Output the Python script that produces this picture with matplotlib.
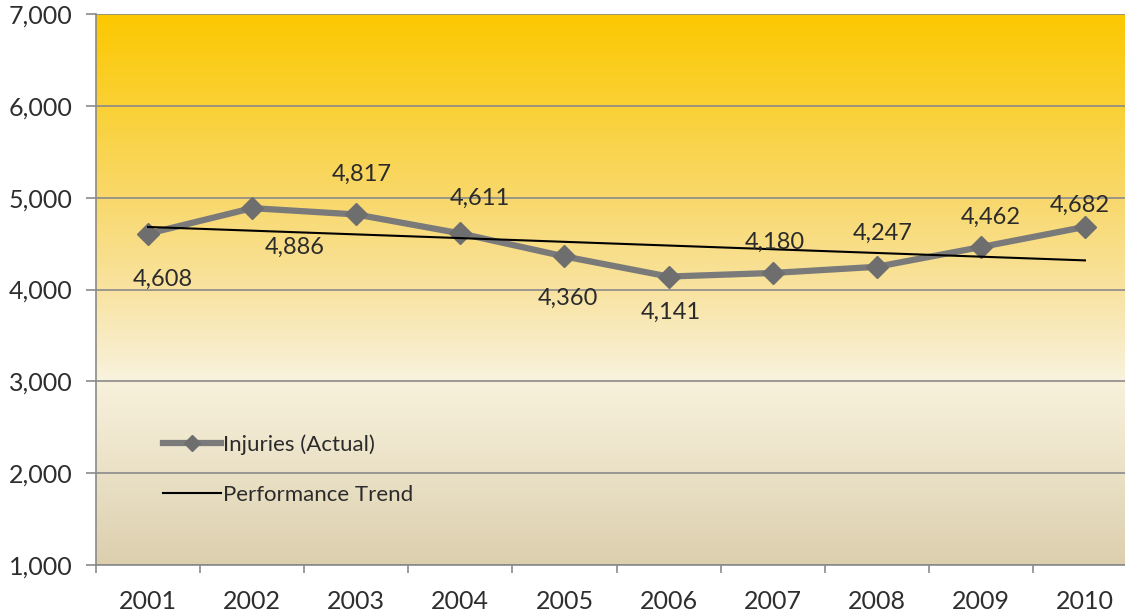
import matplotlib
matplotlib.use("Agg")
import matplotlib.pyplot as plt
import numpy as np
from matplotlib.colors import LinearSegmentedColormap

years = ["2001", "2002", "2003", "2004", "2005", "2006", "2007", "2008", "2009", "2010"]
injuries = [4608, 4886, 4817, 4611, 4360, 4141, 4180, 4247, 4462, 4682]
trend_ends = [4681, 4317]
# label offsets in pixels (dx, dy) from each marker
label_dx = [15, 43, 5, 20, 3, 2, 2, 6, 10, -5]
label_dy = [-46, -39, 40, 35, -42, -36, 31, 33, 30, 22]

plt.rcParams['font.family'] = ['Lato', 'DejaVu Sans']

fig = plt.figure(figsize=(11.25, 6.16), dpi=100)
ax = fig.add_axes([96/1125, 51/616, 1041/1125, 551/616])
x = np.arange(len(years))
ax.set_xlim(-0.5, len(years) - 0.5)
ax.set_ylim(1000, 7000)

# background gradient, bottom -> top
bg = LinearSegmentedColormap.from_list("bg", [
    (0.0, "#dccfae"), (0.18, "#ebe2c8"), (0.34, "#f9f2dc"),
    (0.5, "#f8e3a0"), (0.67, "#f9d86a"), (0.83, "#fad136"), (1.0, "#fcc800")])
grad = np.linspace(0, 1, 256).reshape(-1, 1)
ax.imshow(grad, cmap=bg, origin="lower", aspect="auto",
          extent=(-0.5, len(years) - 0.5, 1000, 7000), zorder=0)

ax.set_yticks(range(1000, 7001, 1000))
ax.set_yticklabels([f"{v:,}" for v in range(1000, 7001, 1000)])
ax.yaxis.grid(True, color="#8a8a8a", linewidth=1.2, zorder=1)
ax.set_xticks(x)
ax.set_xticklabels(years)
ax.set_xticks(np.arange(-0.5, len(years), 1), minor=True)
ax.tick_params(axis="x", which="major", length=0, pad=18, labelsize=18, labelcolor="#2e2e2e")
ax.tick_params(axis="x", which="minor", length=6, color="#8a8a8a", width=1.2)
ax.tick_params(axis="y", length=7, color="#8a8a8a", width=1.2, labelsize=18, labelcolor="#2e2e2e", pad=10)
for s in ["top", "right"]:
    ax.spines[s].set_visible(False)
for s in ["left", "bottom"]:
    ax.spines[s].set_color("#8a8a8a")
    ax.spines[s].set_linewidth(1.2)

ax.plot(x, injuries, color="#7a7a7a", linewidth=4.5, marker="D", markersize=11,
        markerfacecolor="#6e6e6e", markeredgecolor="#6e6e6e", zorder=3, label="Injuries (Actual)")
ax.plot([x[0], x[-1]], trend_ends, color="black", linewidth=1.5, zorder=4, label="Performance Trend")

for xi, v, dx, dy in zip(x, injuries, label_dx, label_dy):
    ax.annotate(f"{v:,}", (xi, v), xytext=(dx, dy), textcoords="offset pixels",
                ha="center", va="center", fontsize=17, color="#2b2b2b", zorder=5)

leg = ax.legend(loc="upper left", bbox_to_anchor=(0.045, 0.274), frameon=False, fontsize=16,
                handlelength=2.6, handletextpad=0.1, labelspacing=1.35, labelcolor="#2b2b2b",
                markerscale=0.75)

fig.savefig("out.png", dpi=100)
